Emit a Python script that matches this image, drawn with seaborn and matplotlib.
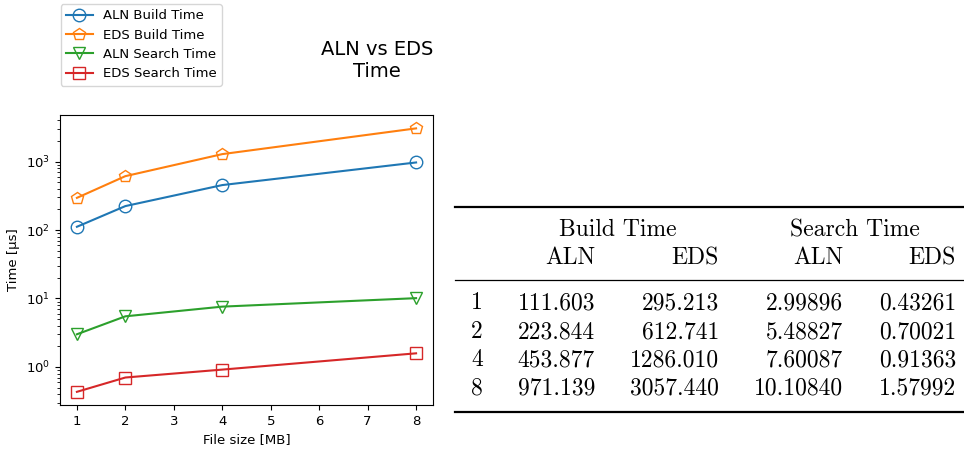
import matplotlib
matplotlib.use('Agg')
import matplotlib.pyplot as plt
import seaborn as sns
from matplotlib.lines import Line2D

# data
file_sizes = [1, 2, 4, 8]
aln_build = [111.603, 223.844, 453.877, 971.139]
eds_build = [295.213, 612.741, 1286.010, 3057.440]
aln_search = [2.99896, 5.48827, 7.60087, 10.10840]
eds_search = [0.43261, 0.70021, 0.91363, 1.57992]

series_labels = ['ALN Build Time', 'EDS Build Time', 'ALN Search Time', 'EDS Search Time']
series_markers = ['o', 'p', 'v', 's']
palette = sns.color_palette('tab10')

plt.rcParams['font.size'] = 9.5

fig = plt.figure(figsize=(9.64, 4.5), dpi=100)
ax = fig.add_axes([0.0622, 0.1, 0.387, 0.644])

for vals, lab, mk, col in zip([aln_build, eds_build, aln_search, eds_search],
                              series_labels, series_markers, palette):
    sns.lineplot(x=file_sizes, y=vals, ax=ax, label=lab, color=col, marker=mk,
                 markersize=9, markerfacecolor='none', markeredgecolor=col,
                 markeredgewidth=1.0, legend=False)

ax.set_yscale('log')
ax.set_xlabel('File size [MB]')
ax.set_ylabel('Time [µs]')

handles, labels = ax.get_legend_handles_labels()
fig.legend(handles, labels, loc='upper left', bbox_to_anchor=(0.059, 1.0),
           labelspacing=0.48, handlelength=2.0, borderaxespad=0.3)

fig.text(0.391, 0.865, 'ALN vs EDS\nTime', ha='center', va='center', fontsize=14)

# table on the right, booktabs style
tfont = dict(family='cmr10', fontsize=17)
H = 450.0
W = 964.0

def fy(y):
    return 1 - y / H

def fx(x):
    return x / W

fig.add_artist(Line2D([fx(455), fx(963)], [fy(207), fy(207)], lw=1.6, color='black'))
fig.add_artist(Line2D([fx(455), fx(963)], [fy(280), fy(280)], lw=0.9, color='black'))
fig.add_artist(Line2D([fx(455), fx(963)], [fy(412), fy(412)], lw=1.6, color='black'))

fig.text(fx(618), fy(230), 'Build Time', ha='center', va='center', **tfont)
fig.text(fx(855), fy(230), 'Search Time', ha='center', va='center', **tfont)

col_right = [595, 719, 843, 956]
for xr, h in zip(col_right, ['ALN', 'EDS', 'ALN', 'EDS']):
    fig.text(fx(xr), fy(258), h, ha='right', va='center', **tfont)

row_y = [303, 332, 360, 388]
for i, y in enumerate(row_y):
    fig.text(fx(477), fy(y), str(file_sizes[i]), ha='center', va='center', **tfont)
    cells = ['%.3f' % aln_build[i], '%.3f' % eds_build[i],
             '%.5f' % aln_search[i], '%.5f' % eds_search[i]]
    for xr, c in zip(col_right, cells):
        fig.text(fx(xr), fy(y), c, ha='right', va='center', **tfont)

fig.savefig('out.png', dpi=100)
